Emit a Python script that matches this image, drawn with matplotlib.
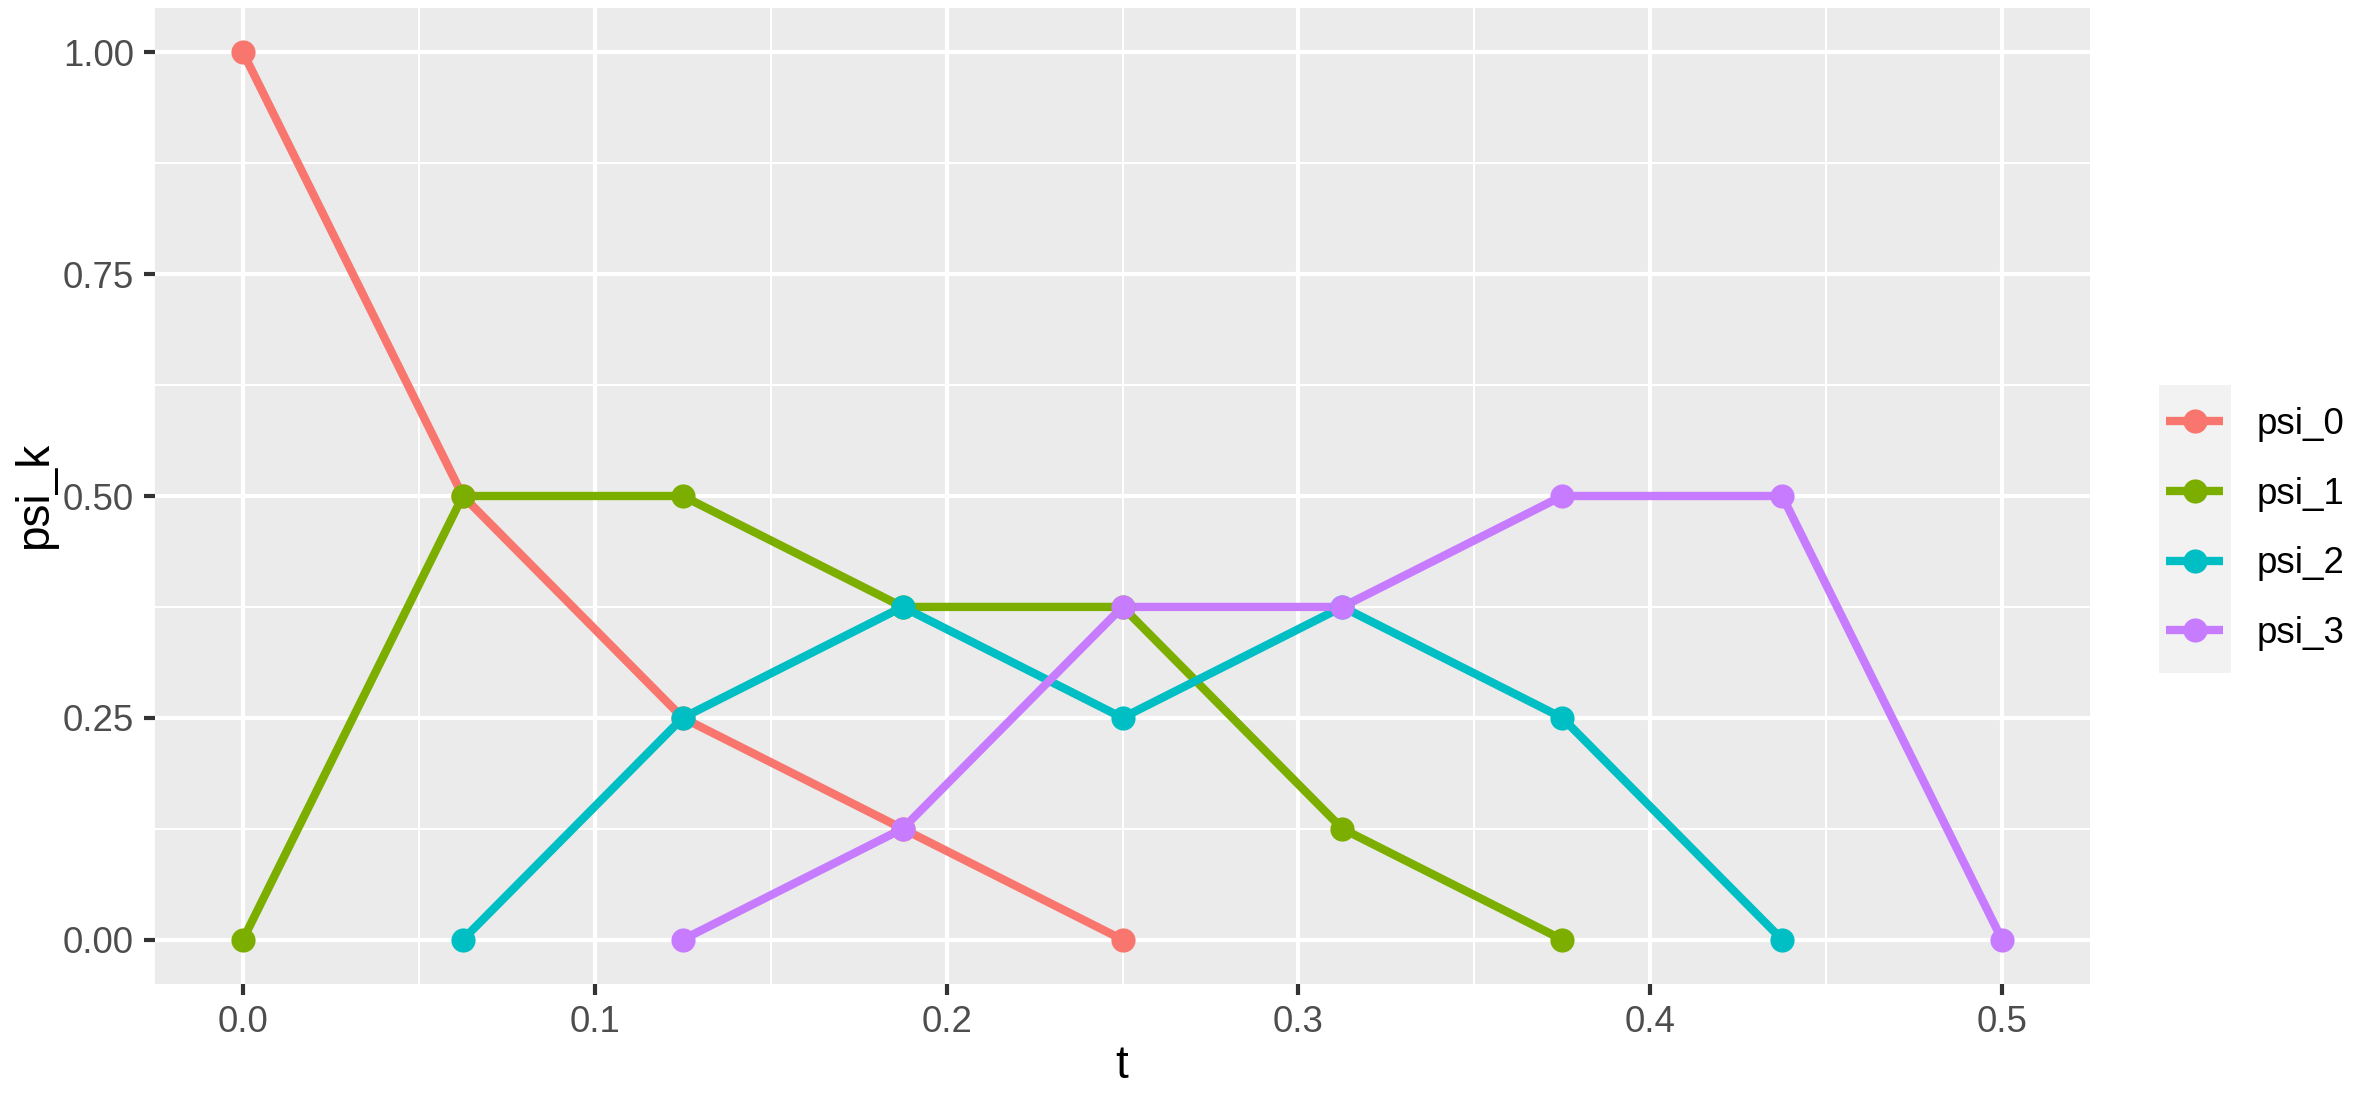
import matplotlib
matplotlib.use("Agg")
import matplotlib.pyplot as plt
from matplotlib.lines import Line2D
from matplotlib.patches import Rectangle
import numpy as np

plt.rcParams['font.family'] = ['Liberation Sans', 'DejaVu Sans']

series_names = ["psi_0", "psi_1", "psi_2", "psi_3"]
t_psi0 = [0.0, 0.0625, 0.125, 0.1875, 0.25]
v_psi0 = [1.0, 0.5, 0.25, 0.125, 0.0]
t_psi1 = [0.0, 0.0625, 0.125, 0.1875, 0.25, 0.3125, 0.375]
v_psi1 = [0.0, 0.5, 0.5, 0.375, 0.375, 0.125, 0.0]
t_psi2 = [0.0625, 0.125, 0.1875, 0.25, 0.3125, 0.375, 0.4375]
v_psi2 = [0.0, 0.25, 0.375, 0.25, 0.375, 0.25, 0.0]
t_psi3 = [0.125, 0.1875, 0.25, 0.3125, 0.375, 0.4375, 0.5]
v_psi3 = [0.0, 0.125, 0.375, 0.375, 0.5, 0.5, 0.0]
colors = ["#F8766D", "#7CAE00", "#00BFC4", "#C77CFF"]

x_ticks = [0.0, 0.1, 0.2, 0.3, 0.4, 0.5]
x_ticklabels = ["0.0", "0.1", "0.2", "0.3", "0.4", "0.5"]
y_ticks = [0.0, 0.25, 0.5, 0.75, 1.0]
y_ticklabels = ["0.00", "0.25", "0.50", "0.75", "1.00"]

W, H = 2357, 1097
DPI = 300
fig = plt.figure(figsize=(W / DPI, H / DPI), dpi=DPI)
fig.patch.set_facecolor("white")

pl, pr, pt, pb = 155, 2090, 8, 984
ax = fig.add_axes([pl / W, 1 - pb / H, (pr - pl) / W, (pb - pt) / H])
ax.set_facecolor("#EBEBEB")
for s in ax.spines.values():
    s.set_visible(False)

ts = [t_psi0, t_psi1, t_psi2, t_psi3]
vs = [v_psi0, v_psi1, v_psi2, v_psi3]
LW = 2.0
MS = 5.8
for name, t, v, c in zip(series_names, ts, vs, colors):
    ax.plot(t, v, color=c, lw=LW, solid_capstyle="butt", zorder=3)
    ax.plot(t, v, linestyle="none", marker="o", ms=MS, color=c,
            markeredgewidth=0, zorder=4)

ax.set_xlim(-0.025, 0.525)
ax.set_ylim(-0.05, 1.05)
ax.set_xticks(x_ticks)
ax.set_xticklabels(x_ticklabels)
ax.set_yticks(y_ticks)
ax.set_yticklabels(y_ticklabels)
ax.set_xticks([0.05, 0.15, 0.25, 0.35, 0.45], minor=True)
ax.set_yticks([0.125, 0.375, 0.625, 0.875], minor=True)
ax.grid(which="major", color="white", lw=1.0)
ax.grid(which="minor", color="white", lw=0.5)
ax.set_axisbelow(True)
ax.tick_params(which="major", length=2.7, width=1.0, color="#333333",
               labelsize=8.8, labelcolor="#4D4D4D", pad=2.4)
ax.tick_params(which="minor", length=0)

ax.set_xlabel("t", fontsize=11, color="black")
ax.set_ylabel("psi_k", fontsize=11, color="black")
ax.xaxis.set_label_coords((1122 - pl) / (pr - pl), -(1066 - pb) / (pb - pt))
ax.xaxis.label.set_verticalalignment("center")
ax.yaxis.set_label_coords((35 - pl) / (pr - pl), (pb - 495) / (pb - pt))
ax.yaxis.label.set_verticalalignment("center")

handles = [Line2D([], [], color=c, lw=LW, marker="o", ms=MS,
                  markeredgewidth=0, solid_capstyle="butt") for c in colors]
fig.add_artist(Rectangle((2159 / W, 1 - 673 / H), 72 / W, 288 / H,
                         transform=fig.transFigure, facecolor="#F2F2F2",
                         edgecolor="none", zorder=0))
leg = fig.legend(handles, series_names, loc="center left",
                 bbox_to_anchor=(2166 / W, 1 - 529 / H),
                 frameon=False, fontsize=8.8, handlelength=1.56,
                 handletextpad=0.9, labelspacing=0.95, borderpad=0,
                 borderaxespad=0)

fig.savefig("out.png", dpi=DPI)
